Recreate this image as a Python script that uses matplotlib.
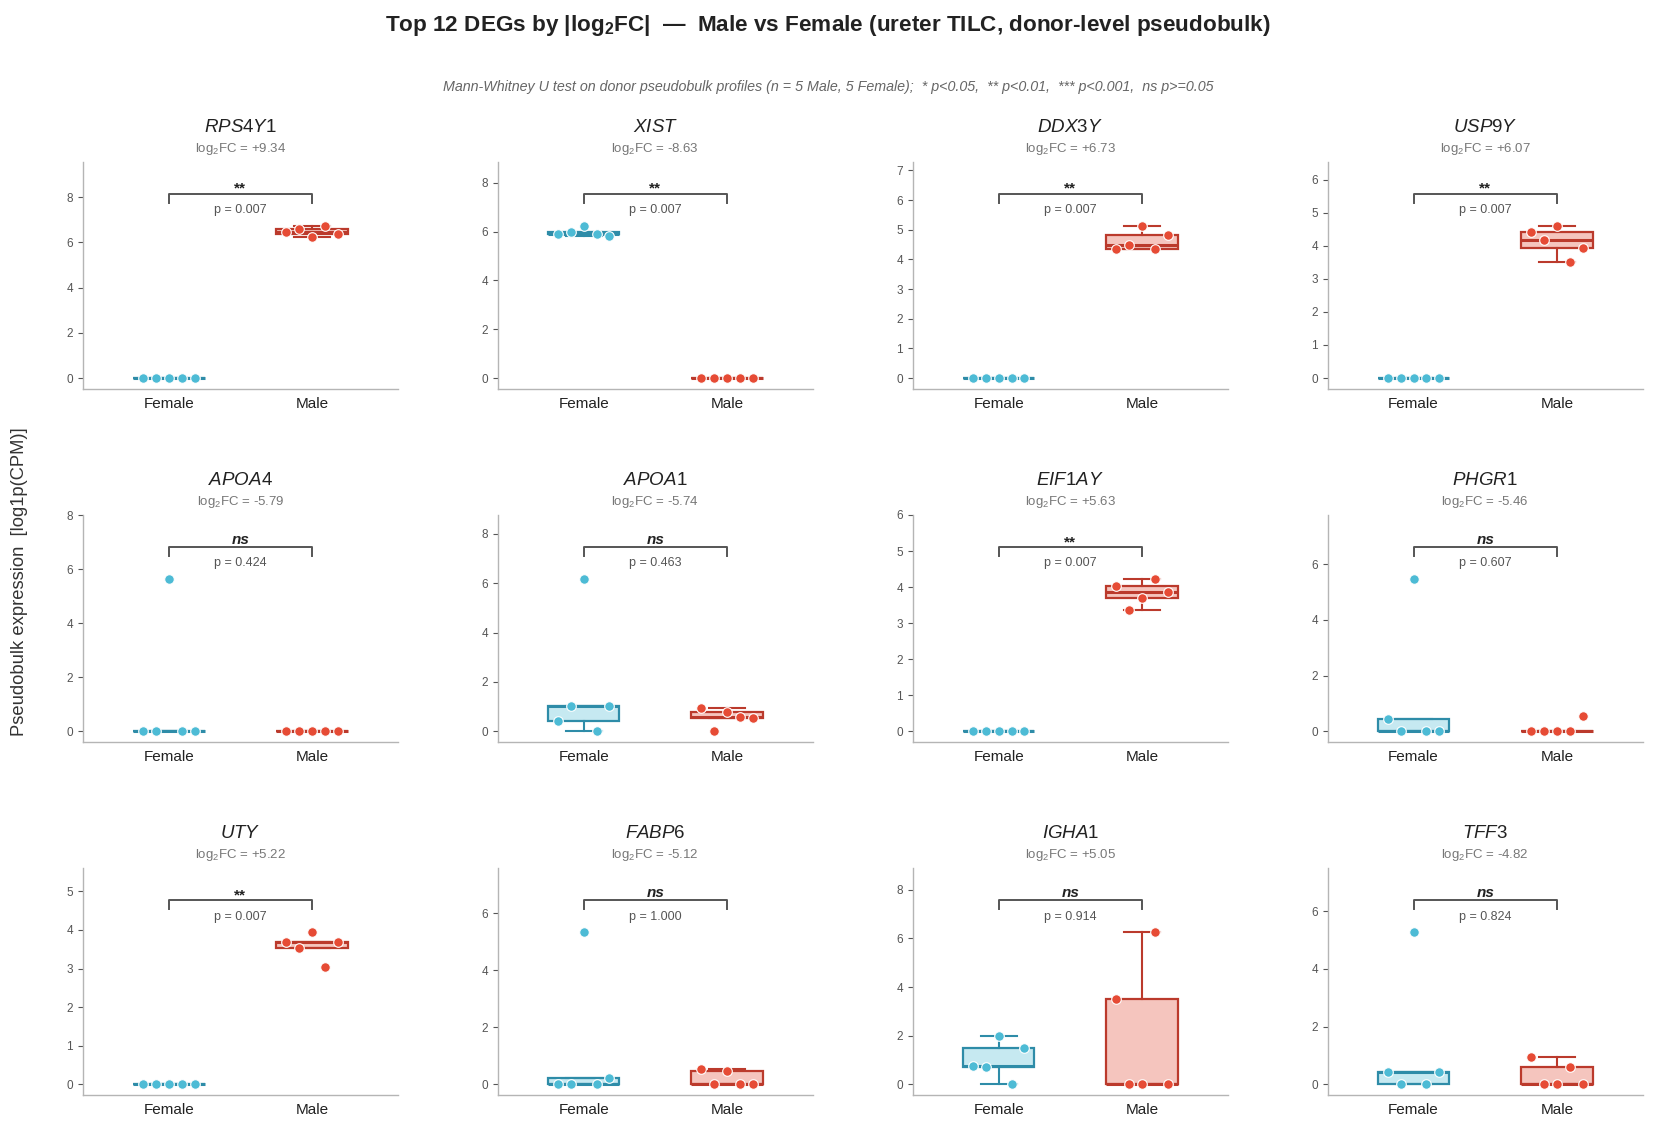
import matplotlib
matplotlib.use("Agg")
import matplotlib.pyplot as plt
from matplotlib.ticker import MultipleLocator
import numpy as np

plt.rcParams['font.family'] = ['Liberation Sans', 'DejaVu Sans']
plt.rcParams['mathtext.fontset'] = 'custom'
plt.rcParams['mathtext.rm'] = 'Liberation Sans'
plt.rcParams['mathtext.it'] = 'Liberation Sans:italic'
plt.rcParams['mathtext.bf'] = 'Liberation Sans:bold'

# data (5 donors per group, in plotted order)
genes = ["RPS4Y1", "XIST", "DDX3Y", "USP9Y",
         "APOA4", "APOA1", "EIF1AY", "PHGR1",
         "UTY", "FABP6", "IGHA1", "TFF3"]
log2fc = [9.34, -8.63, 6.73, 6.07,
          -5.79, -5.74, 5.63, -5.46,
          5.22, -5.12, 5.05, -4.82]
pvals = [0.007, 0.007, 0.007, 0.007,
         0.424, 0.463, 0.007, 0.607,
         0.007, 1.000, 0.914, 0.824]
signif = ["**", "**", "**", "**",
          "ns", "ns", "**", "ns",
          "**", "ns", "ns", "ns"]

female = [
    [0, 0, 0, 0, 0],
    [5.91, 5.99, 6.25, 5.92, 5.84],
    [0, 0, 0, 0, 0],
    [0, 0, 0, 0, 0],
    [0, 0, 5.65, 0, 0],
    [0.42, 1.02, 6.18, 0.0, 1.02],
    [0, 0, 0, 0, 0],
    [0.45, 0, 5.48, 0, 0],
    [0, 0, 0, 0, 0],
    [0, 0, 5.35, 0, 0.22],
    [0.77, 0.70, 2.0, 0.0, 1.50],
    [0.42, 0, 5.28, 0, 0.42],
]
male = [
    [6.44, 6.59, 6.25, 6.74, 6.37],
    [0, 0, 0, 0, 0],
    [4.35, 4.49, 5.14, 4.35, 4.82],
    [4.41, 4.17, 4.61, 3.50, 3.93],
    [0, 0, 0, 0, 0],
    [0.95, 0.0, 0.78, 0.58, 0.53],
    [4.04, 3.36, 3.70, 4.23, 3.87],
    [0, 0, 0, 0, 0.55],
    [3.68, 3.52, 3.95, 3.05, 3.68],
    [0.55, 0, 0.47, 0, 0],
    [3.50, 0, 0, 6.27, 0],
    [0.93, 0, 0, 0.60, 0],
]

groups = ["Female", "Male"]
pt_col = ["#4DBBD5", "#E64B35"]
edge_col = ["#2E8CA8", "#BB3A2C"]
face_col = ["#C6E9F1", "#F5C5BE"]
offsets = np.linspace(-0.18, 0.18, 5)
ytick_step = [2, 2, 1, 1, 2, 2, 1, 2, 1, 2, 2, 2]

fig, axes = plt.subplots(3, 4, figsize=(16.56, 11.30), dpi=100)
fig.subplots_adjust(left=0.050, right=0.992, top=0.857, bottom=0.031,
                    wspace=0.317, hspace=0.555)

for k, ax in enumerate(axes.flat):
    data = [female[k], male[k]]
    for i in range(2):
        bp = ax.boxplot([data[i]], positions=[i], widths=0.5, showfliers=False,
                        patch_artist=True, zorder=2)
        for b in bp['boxes']:
            b.set_facecolor(face_col[i])
            b.set_edgecolor(edge_col[i])
            b.set_linewidth(1.6)
        for part in ('whiskers', 'caps'):
            for l in bp[part]:
                l.set_color(edge_col[i])
                l.set_linewidth(1.5)
        for l in bp['medians']:
            l.set_color(edge_col[i])
            l.set_linewidth(2.2)
        ax.scatter(i + offsets, data[i], s=48, color=pt_col[i],
                   edgecolor="white", linewidth=0.8, zorder=4)

    top = max(max(female[k]), max(male[k]))
    ax.set_xlim(-0.6, 1.6)
    ax.set_ylim(-0.07 * top, top * 1.42)
    ax.yaxis.set_major_locator(MultipleLocator(ytick_step[k]))

    # significance bracket
    y0, y1 = top * 1.15, top * 1.21
    ax.plot([0, 0, 1, 1], [y0, y1, y1, y0], color="#555555", lw=1.4, zorder=3)
    if signif[k] == "ns":
        ax.text(0.5, y1, "ns", ha="center", va="bottom", fontsize=11,
                fontweight="bold", fontstyle="italic", color="#222222")
    else:
        ax.text(0.5, y1 - top * 0.015, signif[k], ha="center", va="bottom",
                fontsize=11, fontweight="bold", color="#222222")
    ax.text(0.5, y0 - top * 0.01, "p = %.3f" % pvals[k], ha="center", va="top",
            fontsize=9, color="#555555")

    ax.text(0.5, 1.15, "$%s$" % genes[k], transform=ax.transAxes,
            ha="center", va="center", fontsize=13.5, color="#222222")
    ax.text(0.5, 1.055, "log$_2$FC = %+.2f" % log2fc[k], transform=ax.transAxes,
            ha="center", va="center", fontsize=9.5, color="#777777")

    ax.set_xticks([0, 1])
    ax.set_xticklabels(groups, fontsize=11, color="#222222")
    ax.tick_params(axis="x", length=0, pad=6)
    ax.tick_params(axis="y", labelsize=8.5, labelcolor="#555555", color="#555555",
                   length=3.5, width=0.8)
    for s in ("top", "right"):
        ax.spines[s].set_visible(False)
    for s in ("left", "bottom"):
        ax.spines[s].set_color("#b5b5b5")
        ax.spines[s].set_linewidth(1.0)

fig.text(0.5, 0.977, r"Top 12 DEGs by |log$_\mathbf{2}$FC|  —  Male vs Female (ureter TILC, donor-level pseudobulk)",
         ha="center", va="center", fontsize=16.2, fontweight="bold", color="#222222")
fig.text(0.5, 0.923, "Mann-Whitney U test on donor pseudobulk profiles (n = 5 Male, 5 Female);  "
         "* p<0.05,  ** p<0.01,  *** p<0.001,  ns p>=0.05",
         ha="center", va="center", fontsize=10.3, fontstyle="italic", color="#666666")
fig.text(0.012, 0.485, "Pseudobulk expression  [log1p(CPM)]", rotation=90,
         ha="center", va="center", fontsize=13.2, color="#333333")

fig.savefig("out.png", dpi=100)
